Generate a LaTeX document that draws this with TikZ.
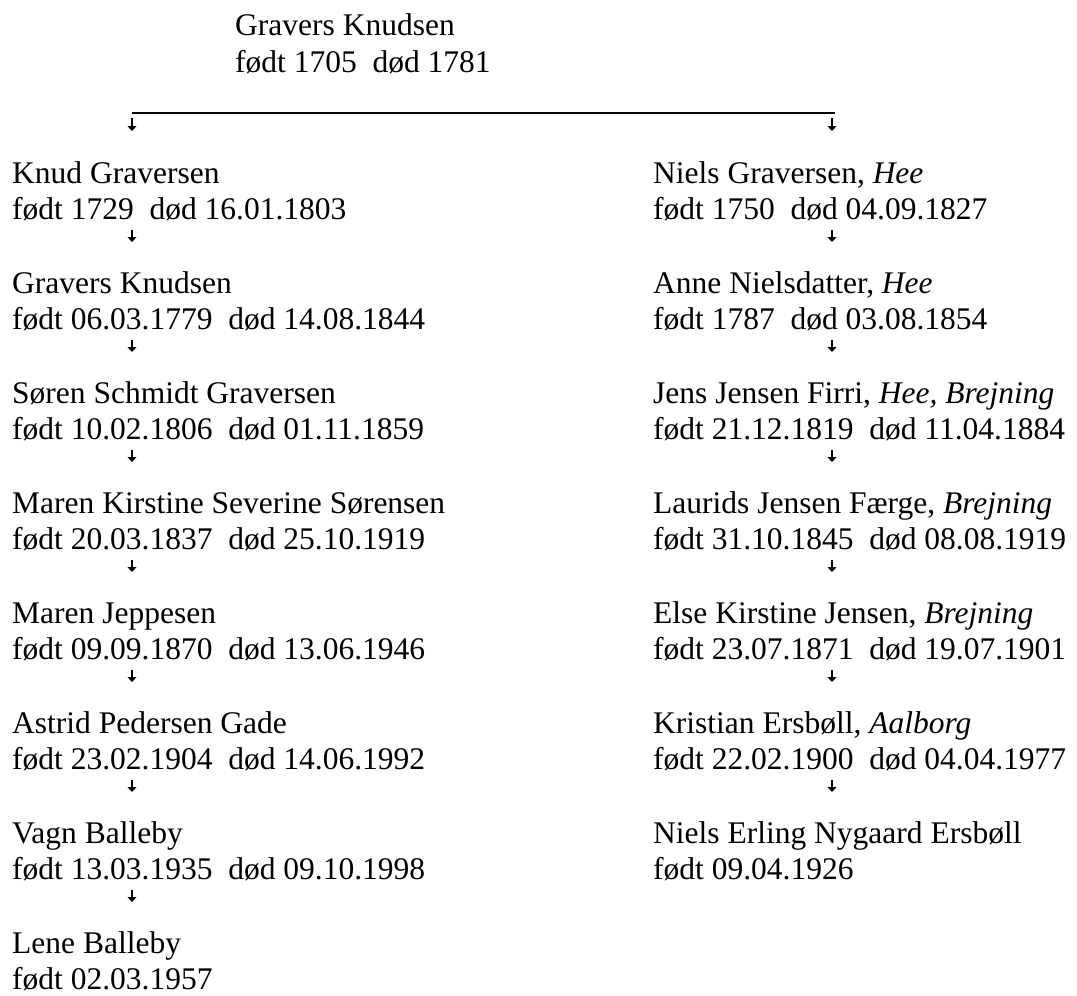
\documentclass[tikz,border=0pt]{standalone}
\usepackage{fontspec}
\setmainfont{Liberation Serif}
\newfontfamily\treefont{Liberation Serif}
\usetikzlibrary{arrows.meta}
\tikzset{
  person/.style={anchor=base west, inner sep=0pt, align=left, font=\treefont\fontsize{31.5}{36.5}\selectfont},
  descent/.style={-{Triangle[width=9pt,length=5pt]}, line width=1.1pt},
  barLine/.style={line width=1.5pt}
}
\newcommand{\lived}[2]{født #1\hspace{0.5em}død #2}

\begin{document}
\begin{tikzpicture}[x=1pt,y=-1pt]
  \useasboundingbox (0,0) rectangle (1077,996);

  \node[person] (gravers1705) at (235,72) {Gravers Knudsen\\\lived{1705}{1781}};

  \coordinate (barL) at (132,113);
  \coordinate (barR) at (835,113);
  \coordinate (aR) at (832,113);
  \draw[barLine] (barL) -- (barR);

  % left line
  \node[person] (knud) at (12,219.5) {Knud Graversen\\\lived{1729}{16.01.1803}};
  \node[person] (gravers1779) at (12,329.5) {Gravers Knudsen\\\lived{06.03.1779}{14.08.1844}};
  \node[person] (soeren) at (12,439.5) {Søren Schmidt Graversen\\\lived{10.02.1806}{01.11.1859}};
  \node[person] (marenK) at (12,549.5) {Maren Kirstine Severine Sørensen\\\lived{20.03.1837}{25.10.1919}};
  \node[person] (marenJ) at (12,659.5) {Maren Jeppesen\\\lived{09.09.1870}{13.06.1946}};
  \node[person] (astrid) at (12,769.5) {Astrid Pedersen Gade\\\lived{23.02.1904}{14.06.1992}};
  \node[person] (vagn) at (12,879.5) {Vagn Balleby\\\lived{13.03.1935}{09.10.1998}};
  \node[person] (lene) at (12,989.5) {Lene Balleby\\født 02.03.1957};

  % right line
  \node[person] (niels) at (653,219.5) {Niels Graversen, \textit{Hee}\\\lived{1750}{04.09.1827}};
  \node[person] (anne) at (653,329.5) {Anne Nielsdatter, \textit{Hee}\\\lived{1787}{03.08.1854}};
  \node[person] (jens) at (653,439.5) {Jens Jensen Firri, \textit{Hee, Brejning}\\\lived{21.12.1819}{11.04.1884}};
  \node[person] (laurids) at (653,549.5) {Laurids Jensen Færge, \textit{Brejning}\\\lived{31.10.1845}{08.08.1919}};
  \node[person] (else) at (653,659.5) {Else Kirstine Jensen, \textit{Brejning}\\\lived{23.07.1871}{19.07.1901}};
  \node[person] (kristian) at (653,769.5) {Kristian Ersbøll, \textit{Aalborg}\\\lived{22.02.1900}{04.04.1977}};
  \node[person] (erling) at (653,879.5) {Niels Erling Nygaard Ersbøll\\født 09.04.1926};

  % arrows
  \draw[descent, shorten <=5pt, shorten >=88.5pt] (barL) -- (knud.base -| barL);
  \draw[descent, shorten <=5pt, shorten >=88.5pt] (aR) -- (niels.base -| aR);

  \foreach \a/\b in {knud/gravers1779, gravers1779/soeren, soeren/marenK, marenK/marenJ,
                     marenJ/astrid, astrid/vagn, vagn/lene}
    \draw[descent, shorten <=10.5pt, shorten >=87.5pt] (\a.base -| barL) -- (\b.base -| barL);
  \foreach \a/\b in {niels/anne, anne/jens, jens/laurids, laurids/else,
                     else/kristian, kristian/erling}
    \draw[descent, shorten <=10.5pt, shorten >=87.5pt] (\a.base -| aR) -- (\b.base -| aR);
\end{tikzpicture}
\end{document}
